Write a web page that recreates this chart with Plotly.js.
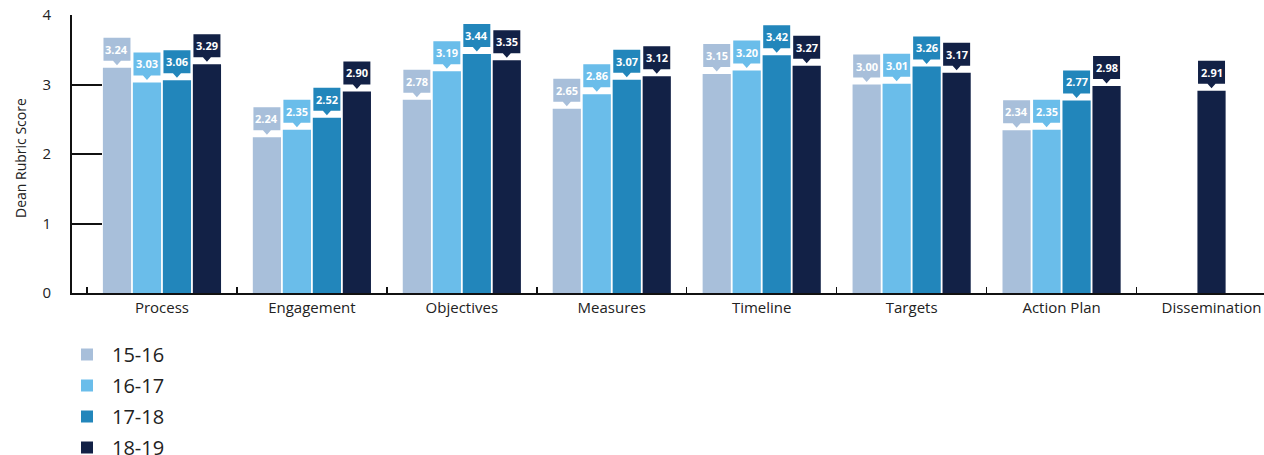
<!DOCTYPE html>
<html>
<head>
<meta charset="utf-8">
<script src="https://cdn.plot.ly/plotly-3.0.1.min.js"></script>
<style>
  html, body { margin: 0; padding: 0; background: #fff; }
  #chart { width: 1264px; height: 455px; }
</style>
</head>
<body>
<div id="chart"></div>
<script>
// Rubric areas and school years
const categories = ["Process", "Engagement", "Objectives", "Measures", "Timeline", "Targets", "Action Plan", "Dissemination"];
const years = ["15-16", "16-17", "17-18", "18-19"];

// Mean rubric scores per area, one array per school year
const scores1516 = [3.24, 2.24, 2.78, 2.65, 3.15, 3.00, 2.34, null];
const scores1617 = [3.03, 2.35, 3.19, 2.86, 3.20, 3.01, 2.35, null];
const scores1718 = [3.06, 2.52, 3.44, 3.07, 3.42, 3.26, 2.77, null];
const scores1819 = [3.29, 2.90, 3.35, 3.12, 3.27, 3.17, 2.98, 2.91];

const yTicks = [0, 1, 2, 3, 4];
const yTitle = "Dean Rubric Score";

const series = [scores1516, scores1617, scores1718, scores1819];
const colors = ["#A8BFDA", "#6ABDEA", "#2286BB", "#122146"];

const slot = 0.2;      // width of one bar slot inside a category
const barW = 0.188;    // drawn bar width

// Centre of each bar: bars of a category are grouped around the category
// centre using only the years that have a value there.
function barCentres(si) {
  return categories.map((c, ci) => {
    const present = series.map(s => s[ci] != null);
    const n = present.filter(Boolean).length;
    let rank = 0;
    for (let k = 0; k < si; k++) if (present[k]) rank++;
    return ci + (rank - (n - 1) / 2) * slot;
  });
}

const traces = [];
const shapes = [];
const annotations = [];

series.forEach((vals, si) => {
  const centres = barCentres(si);
  traces.push({
    type: "bar",
    name: years[si],
    x: categories,
    y: vals,
    width: barW,
    offset: centres.map((c, ci) => c - ci - barW / 2),
    marker: { color: colors[si], line: { width: 0 } },
    legendgroup: years[si],
    hoverinfo: "x+y+name"
  });

  vals.forEach((v, ci) => {
    if (v == null) return;
    // callout box with a small pointer above each bar
    shapes.push({
      type: "path",
      xref: "x", yref: "y",
      xsizemode: "pixel", ysizemode: "pixel",
      xanchor: centres[ci], yanchor: v,
      path: "M -13.5 7 L -4 7 L 0 2.5 L 4 7 L 13.5 7 L 13.5 30 L -13.5 30 Z",
      fillcolor: colors[si],
      line: { width: 0 },
      layer: "above"
    });
    annotations.push({
      xref: "x", yref: "y",
      x: centres[ci], y: v,
      yshift: 18.5,
      yanchor: "middle",
      xanchor: "center",
      showarrow: false,
      text: "<b>" + v.toFixed(2) + "</b>",
      font: { family: "Open Sans, sans-serif", size: 11, color: "#ffffff" }
    });
  });
});

// vertical axis title, set to the left of the tick labels
annotations.push({
  xref: "paper", yref: "paper",
  x: 0, y: 0.5,
  xshift: -52, yshift: -4,
  xanchor: "center", yanchor: "middle",
  textangle: -90,
  showarrow: false,
  text: yTitle,
  font: { family: "Open Sans, sans-serif", size: 14, color: "#222222" }
});

const layout = {
  width: 1264,
  height: 455,
  margin: { l: 72, r: 0, t: 15, b: 162, pad: 0, autoexpand: false },
  paper_bgcolor: "#ffffff",
  plot_bgcolor: "#ffffff",
  barmode: "overlay",
  font: { family: "Open Sans, sans-serif", color: "#222222" },
  xaxis: {
    type: "category",
    range: [-0.6, 7.35],
    showgrid: false,
    zeroline: false,
    showline: true,
    linecolor: "#111111",
    linewidth: 2,
    ticks: "inside",
    tickson: "boundaries",
    ticklen: 6,
    tickwidth: 1.5,
    tickcolor: "#111111",
    tickfont: { size: 15, color: "#222222" },
    ticklabelstandoff: 0,
    layer: "below traces",
    automargin: false,
    fixedrange: true
  },
  yaxis: {
    range: [0, 4],
    tickvals: yTicks,
    ticktext: yTicks.map(String),
    showgrid: false,
    zeroline: false,
    showline: true,
    linecolor: "#111111",
    linewidth: 2,
    ticks: "inside",
    ticklen: 30,
    tickwidth: 2,
    tickcolor: "#111111",
    tickfont: { size: 15, color: "#222222" },
    ticklabelstandoff: 16,
    automargin: false,
    fixedrange: true
  },
  showlegend: true,
  legend: {
    orientation: "v",
    xref: "container", yref: "container",
    x: 62 / 1264,
    y: 1 - 335 / 455,
    xanchor: "left",
    yanchor: "top",
    traceorder: "grouped",
    tracegroupgap: 2,
    itemwidth: 40,
    font: { size: 20, color: "#222222" },
    bgcolor: "rgba(0,0,0,0)"
  },
  shapes: shapes,
  annotations: annotations
};

Plotly.newPlot("chart", traces, layout, { displayModeBar: false, staticPlot: true });
</script>
</body>
</html>
